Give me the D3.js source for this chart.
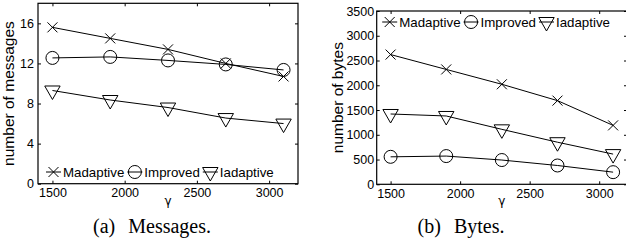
<!DOCTYPE html>
<html>
<head>
<meta charset="utf-8">
<script src="https://cdn.jsdelivr.net/npm/d3@7"></script>
<style>
  body { margin: 0; background: #fff; }
  svg { display: block; }
  text { fill: #000; }
</style>
</head>
<body>
<div id="chart"></div>
<script>
// --- data ---
const gammaValues = [1500, 1900, 2300, 2700, 3100];
const gammaTicks = [1500, 2000, 2500, 3000];
const seriesNames = ["Madaptive", "Improved", "Iadaptive"];
const seriesMarkers = ["x", "circle", "tri"];

const msgMadaptive = [15.6, 14.5, 13.4, 12.0, 10.7];
const msgImproved = [12.55, 12.65, 12.3, 11.9, 11.35];
const msgIadaptive = [9.3, 8.35, 7.6, 6.55, 6.0];
const msgTicks = [0, 4, 8, 12, 16];

const bytesMadaptive = [2620, 2320, 2020, 1690, 1190];
const bytesImproved = [555, 570, 490, 380, 245];
const bytesIadaptive = [1420, 1380, 1110, 850, 610];
const bytesTicks = [0, 500, 1000, 1500, 2000, 2500, 3000, 3500];

const SANS = "'Liberation Sans', Arial, Helvetica, sans-serif";
const SERIF = "'Liberation Serif', 'Times New Roman', serif";

const svg = d3.select("#chart").append("svg")
  .attr("width", 626).attr("height", 249);

svg.append("rect").attr("width", 626).attr("height", 249).attr("fill", "#fff");

function drawMarker(g, type, cx, cy) {
  if (type === "x") {
    const s = 5;
    g.append("path")
      .attr("d", `M${cx - s},${cy - s}L${cx + s},${cy + s}M${cx - s},${cy + s}L${cx + s},${cy - s}`)
      .attr("stroke", "#000").attr("stroke-width", 1).attr("fill", "none");
  } else if (type === "circle") {
    g.append("circle").attr("cx", cx).attr("cy", cy).attr("r", 6.5)
      .attr("stroke", "#000").attr("stroke-width", 1).attr("fill", "none");
  } else {
    // down triangle, centroid on the point
    g.append("path")
      .attr("d", `M${cx - 7.7},${cy - 4.5}L${cx + 7.7},${cy - 4.5}L${cx},${cy + 9}Z`)
      .attr("stroke", "#000").attr("stroke-width", 1).attr("fill", "none");
  }
}

function drawPanel(cfg) {
  const g = svg.append("g");
  const x = d3.scaleLinear().domain([1400, 3200]).range([cfg.left, cfg.right]);
  const y = d3.scaleLinear().domain(cfg.yDomain).range([cfg.bottom, cfg.top]);

  // axes (ticks pointing inward on all four sides)
  const styleAxis = (ax) => {
    ax.attr("font-size", null).attr("font-family", null);
    ax.select(".domain").remove();
    ax.selectAll(".tick line").attr("stroke", "#000").attr("stroke-width", 1);
    ax.selectAll(".tick text")
      .style("font-family", SANS).style("font-size", "12.5px").attr("fill", "#000");
  };

  g.append("g").attr("transform", `translate(0,${cfg.bottom})`)
    .call(d3.axisBottom(x).tickValues(gammaTicks).tickFormat(d3.format("d"))
      .tickSize(-3).tickPadding(4.5))
    .call(styleAxis);
  g.append("g").attr("transform", `translate(0,${cfg.top})`)
    .call(d3.axisTop(x).tickValues(gammaTicks).tickFormat("").tickSize(-3))
    .call(styleAxis);
  g.append("g").attr("transform", `translate(${cfg.left},0)`)
    .call(d3.axisLeft(y).tickValues(cfg.yTicks).tickFormat(d3.format("d"))
      .tickSize(-3).tickPadding(cfg.yPad))
    .call(styleAxis);
  g.append("g").attr("transform", `translate(${cfg.right},0)`)
    .call(d3.axisRight(y).tickValues(cfg.yTicks).tickFormat("").tickSize(-3))
    .call(styleAxis);

  g.append("rect")
    .attr("x", cfg.left).attr("y", cfg.top)
    .attr("width", cfg.right - cfg.left).attr("height", cfg.bottom - cfg.top)
    .attr("fill", "none").attr("stroke", "#000").attr("stroke-width", 1.2);

  // series
  const line = d3.line().x((d, i) => x(gammaValues[i])).y((d) => y(d));
  cfg.series.forEach((vals, k) => {
    g.append("path").datum(vals).attr("d", line)
      .attr("fill", "none").attr("stroke", "#000").attr("stroke-width", 1);
    vals.forEach((v, i) => drawMarker(g, seriesMarkers[k], x(gammaValues[i]), y(v)));
  });

  // legend (no box)
  let lx = cfg.left + cfg.legendDx;
  const ly = cfg.legendY;
  seriesNames.forEach((name, k) => {
    g.append("line").attr("x1", lx).attr("x2", lx + 15).attr("y1", ly).attr("y2", ly)
      .attr("stroke", "#000").attr("stroke-width", 1);
    drawMarker(g, seriesMarkers[k], lx + 7.5, ly);
    const t = g.append("text").attr("x", lx + 17).attr("y", ly).attr("dy", "0.36em")
      .style("font-family", SANS).style("font-size", "13.3px").text(name);
    lx = lx + 17 + t.node().getComputedTextLength() + 3;
  });

  // axis labels
  g.append("text")
    .attr("transform", `translate(${cfg.yLabelX},${(cfg.top + cfg.bottom) / 2}) rotate(-90)`)
    .attr("text-anchor", "middle")
    .style("font-family", SANS).style("font-size", "15.5px")
    .text(cfg.yLabel);

  g.append("text")
    .attr("x", (cfg.left + cfg.right) / 2).attr("y", cfg.bottom + 21)
    .attr("text-anchor", "middle")
    .style("font-family", "'DejaVu Sans', sans-serif").style("font-size", "12px")
    .text("\u03b3");

  // caption
  const cap = g.append("text")
    .attr("x", cfg.captionX).attr("y", 233)
    .attr("text-anchor", "middle")
    .style("font-family", SERIF).style("font-size", "20px");
  cap.append("tspan").text(cfg.captionTag);
  cap.append("tspan").attr("dx", 13).text(cfg.caption);
}

drawPanel({
  left: 38, right: 298, top: 3.3, bottom: 183.7,
  yDomain: [0, 18], yTicks: msgTicks, yPad: 4,
  series: [msgMadaptive, msgImproved, msgIadaptive],
  legendDx: 8, legendY: 172,
  yLabel: "number of messages", yLabelX: 13.5,
  captionX: 152, captionTag: "(a)", caption: "Messages."
});

drawPanel({
  left: 376.7, right: 627, top: 11, bottom: 184.3,
  yDomain: [0, 3500], yTicks: bytesTicks, yPad: 2.5,
  series: [bytesMadaptive, bytesImproved, bytesIadaptive],
  legendDx: 5.5, legendY: 22,
  yLabel: "number of bytes", yLabelX: 343.4,
  captionX: 461, captionTag: "(b)", caption: "Bytes."
});
</script>
</body>
</html>
